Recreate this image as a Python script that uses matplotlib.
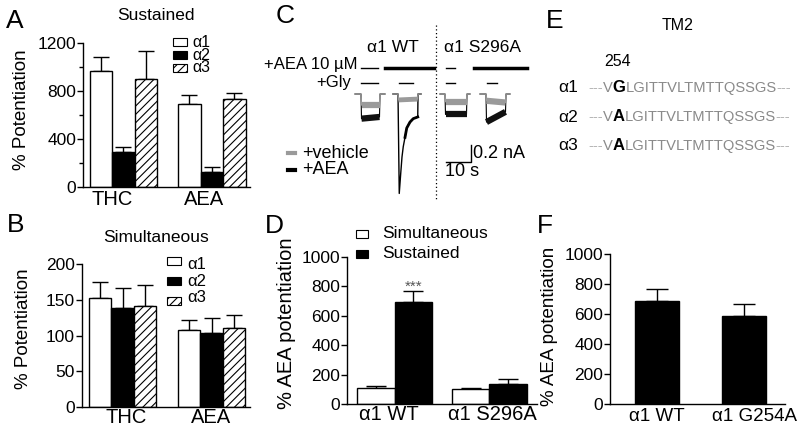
import numpy as np
import matplotlib
matplotlib.use('agg')
import matplotlib.pyplot as plt
from matplotlib.patches import Rectangle
from matplotlib.lines import Line2D

plt.rcParams['font.family'] = ['Liberation Sans', 'DejaVu Sans']
plt.rcParams['hatch.linewidth'] = 0.8
plt.rcParams['axes.linewidth'] = 1.0

W, H = 800, 438

# ---- data ----
drugs = ['THC', 'AEA']
subunits = ['α1', 'α2', 'α3']
sust_mean = [[965, 695], [290, 125], [900, 730]]      # per subunit: THC, AEA
sust_sem = [[120, 72], [43, 42], [235, 53]]
simul_mean = [[152, 108], [139, 104], [141, 111]]
simul_sem = [[23, 14], [27, 20], [30, 18]]

d_groups = ['α1 WT', 'α1 S296A']
d_simul = [110, 100]
d_simul_sem = [12, 10]
d_sust = [692, 136]
d_sust_sem = [80, 34]

f_groups = ['α1 WT', 'α1 G254A']
f_mean = [690, 590]
f_sem = [77, 78]

seq_labels = ['α1', 'α2', 'α3']
seq_site = ['G', 'A', 'A']
seq_rest = 'LGITTVLTMTTQSSGS'

# traces (time in s, current in nA)
wt_pre_t = [2.0, 4.4, 4.6, 11.8, 12.0, 14.0]
wt_pre_veh = [0, 0, -0.13, -0.13, 0, 0]
wt_pre_aea = [0, 0, -0.29, -0.27, 0, 0]
wt_post_t = [17.2, 19.2, 19.4, 27.0, 27.2, 28.4]
wt_post_veh = [0, 0, -0.07, -0.06, 0, 0]
wt_post_aea_t = [17.2, 19.2, 19.7, 20.3, 20.8, 21.3, 22.0, 22.7, 24.0, 25.3, 27.1, 27.2, 28.4]
wt_post_aea = [0, 0, -1.17, -0.93, -0.74, -0.62, -0.51, -0.40, -0.33, -0.29, -0.27, 0, 0]
mut_pre_t = [36.0, 38.0, 38.2, 46.6, 46.8, 48.0]
mut_pre_veh = [0, 0, -0.09, -0.09, 0, 0]
mut_pre_aea = [0, 0, -0.24, -0.24, 0, 0]
mut_post_t = [52.0, 54.4, 54.6, 62.2, 62.4, 64.0]
mut_post_veh = [0, 0, -0.08, -0.10, 0, 0]
mut_post_aea = [0, 0, -0.33, -0.21, 0, 0]
aea_thin = [(4.4, 11.2), (38.4, 42.0)]
aea_thick = [(14.0, 33.6), (49.6, 70.8)]
gly_on = [(4.4, 11.2), (19.6, 25.2), (38.4, 42.0), (54.8, 58.8)]

GREY = '#9a9a9a'


def rect(l, t, r, b):
    return [l / W, 1 - b / H, (r - l) / W, (b - t) / H]


def ftext(x, y, s, **kw):
    return fig.text(x / W, 1 - y / H, s, **kw)


def style(ax, xsize=14.5):
    for s in ['top', 'right']:
        ax.spines[s].set_visible(False)
    ax.tick_params(axis='y', direction='out', length=4, width=1, labelsize=12.5, pad=1)
    ax.tick_params(axis='x', length=0, labelsize=xsize)


fig = plt.figure(figsize=(8, 4.38), dpi=100)

# ---- A and B: grouped bars ----
pos_thc = [0.8, 1.8, 2.8]
pos_aea = [4.75, 5.75, 6.75]
fills = ['white', 'black', 'white']
hatches = [None, None, '////']


def grouped(ax, means, sems):
    for k in range(3):
        xs = [pos_thc[k], pos_aea[k]]
        ax.bar(xs, means[k], width=1.0, color=fills[k], edgecolor='black',
               linewidth=1, hatch=hatches[k], zorder=2)
        ax.errorbar(xs, means[k], yerr=[[0, 0], sems[k]], fmt='none',
                    ecolor='black', elinewidth=1, capsize=6, capthick=1, zorder=1)
    ax.set_xlim(0, 7.45)


axA = fig.add_axes(rect(83, 43, 250, 187))
grouped(axA, sust_mean, sust_sem)
axA.set_ylim(0, 1200)
axA.set_yticks([0, 400, 800, 1200])
axA.set_yticks([200, 600, 1000], minor=True)
axA.tick_params(axis='y', which='minor', length=3, width=1)
axA.set_xticks([1.29, 5.42])
axA.set_xticklabels(drugs)
style(axA)
axA.tick_params(axis='x', pad=2)
axA.set_ylabel('% Potentiation', fontsize=13.5)
axA.yaxis.set_label_coords(-0.32, 0.54)

axB = fig.add_axes(rect(82, 264, 250, 407))
grouped(axB, simul_mean, simul_sem)
axB.set_ylim(0, 200)
axB.set_yticks([0, 50, 100, 150, 200])
axB.set_xticks([1.96, 5.73])
axB.set_xticklabels(drugs)
style(axB)
axB.tick_params(axis='x', pad=1)
axB.set_ylabel('% Potentiation', fontsize=13.5)
axB.yaxis.set_label_coords(-0.30, 0.55)

ftext(156, 15, 'Sustained', ha='center', va='center', fontsize=12.5)
ftext(156, 238, 'Simultaneous', ha='center', va='center', fontsize=12.5)

# legends of A and B: boxes plus one multi-line text each
for y_top, step, xb, xt, fs, ls in [(42, 13, 173, 192, 11.5, 0.77),
                                     (261, 20, 167, 187, 12, 1.14)]:
    for k in range(3):
        y0 = y_top + step * k
        fig.add_artist(Rectangle((xb / W, 1 - (y0 + 4) / H), 14 / W, 8 / H,
                                 facecolor=fills[k], edgecolor='black', linewidth=0.8,
                                 hatch=hatches[k], transform=fig.transFigure))
    ftext(xt, y_top + step, '\n'.join(subunits), va='center', fontsize=fs,
          linespacing=ls)

# ---- C: traces ----
axC = fig.add_axes(rect(350, 60, 530, 200))
axC.set_xlim(0, 72)
axC.set_ylim(-1.247, 0.4)
axC.axis('off')
for t, veh, aea in [(wt_pre_t, wt_pre_veh, wt_pre_aea),
                    (mut_pre_t, mut_pre_veh, mut_pre_aea),
                    (mut_post_t, mut_post_veh, mut_post_aea)]:
    axC.plot(t, aea, color='black', lw=0.8)
    axC.plot(t, veh, color=GREY, lw=0.9)
    axC.plot(t[2:4], veh[2:4], color=GREY, lw=4.5, solid_capstyle='butt')
    axC.plot(t[2:4], aea[2:4], color='#111111', lw=4.5, solid_capstyle='butt')
axC.plot(wt_post_aea_t, wt_post_aea, color='black', lw=1.0)
axC.plot(wt_post_t, wt_post_veh, color=GREY, lw=0.9)
axC.plot(wt_post_t[2:4], wt_post_veh[2:4], color=GREY, lw=3.5, solid_capstyle='butt')
axC.plot(wt_post_aea_t[6:11], wt_post_aea[6:11], color='black', lw=2)
for a, b in aea_thin:
    axC.plot([a, b], [0.31, 0.31], color='black', lw=1)
for a, b in aea_thick:
    axC.plot([a, b], [0.31, 0.31], color='black', lw=2.5)
for a, b in gly_on:
    axC.plot([a, b], [0.13, 0.13], color='black', lw=1)
# scale bar 10 s / 0.2 nA
axC.plot([38.4, 48.4, 48.4], [-0.8, -0.8, -0.6], color='black', lw=1)
ftext(473, 153, '0.2 nA', va='center', fontsize=13)
ftext(445, 172, '10 s', va='center', fontsize=13)

ftext(357, 65, '+AEA 10 µM', ha='right', va='center', fontsize=12)
ftext(351, 83, '+Gly', ha='right', va='center', fontsize=12)
ftext(393, 47, 'α1 WT', ha='center', va='center', fontsize=12.5)
ftext(483, 47, 'α1 S296A', ha='center', va='center', fontsize=12.5)
fig.add_artist(Line2D([436 / W, 436 / W], [1 - 25 / H, 1 - 200 / H], color='black',
                      lw=0.9, ls=(0, (1, 2)), transform=fig.transFigure))
for y0, c, lab in [(153, GREY, '+vehicle'), (170, 'black', '+AEA')]:
    fig.add_artist(Line2D([288 / W, 295 / W], [1 - y0 / H] * 2, color=c, lw=3,
                          transform=fig.transFigure))
    ftext(302, y0, lab, va='center', fontsize=13)

# ---- D ----
axD = fig.add_axes(rect(347, 257, 537, 404))
xw = np.array([0.77, 3.3])
axD.bar(xw, d_simul, width=1.0, color='white', edgecolor='black', lw=1, zorder=2)
axD.bar(xw + 1, d_sust, width=1.0, color='black', edgecolor='black', lw=1, zorder=2)
axD.errorbar(xw, d_simul, yerr=[[0, 0], d_simul_sem], fmt='none', ecolor='black',
             elinewidth=1, capsize=7, zorder=1)
axD.errorbar(xw + 1, d_sust, yerr=[[0, 0], d_sust_sem], fmt='none', ecolor='black',
             elinewidth=1, capsize=7, zorder=1)
axD.set_xlim(0, 5.07)
axD.set_ylim(0, 1000)
axD.set_yticks(range(0, 1001, 200))
axD.set_xticks([1.12, 3.89])
axD.set_xticklabels(d_groups)
style(axD)
axD.tick_params(axis='x', pad=1)
axD.set_ylabel('% AEA potentiation', fontsize=14.5)
axD.yaxis.set_label_coords(-0.27, 0.55)
axD.text(1.77, 800, '***', ha='center', va='center', fontsize=11, color='#555555')
for y0, fc, lab in [(234, 'white', 'Simultaneous'), (254, 'black', 'Sustained')]:
    fig.add_artist(Rectangle((356 / W, 1 - (y0 + 4) / H), 12 / W, 8 / H, facecolor=fc,
                             edgecolor='black', lw=0.8, transform=fig.transFigure))
    ftext(382, y0, lab, va='center', fontsize=12.5)

# ---- E: sequence alignment ----
axE = fig.add_axes([0, 0, 1, 1])
axE.axis('off')
axE.set_xlim(0, W)
axE.set_ylim(H, 0)
axE.text(678, 26, 'TM2', ha='center', va='center', fontsize=11.5)
axE.text(618, 62, '254', ha='center', va='center', fontsize=11.5)
for k in range(3):
    y0 = 88 + 29 * k
    axE.text(568, y0, seq_labels[k], ha='center', va='center', fontsize=12.5)
    t0 = axE.text(588, y0, '---', va='center', fontsize=10.6, color='#b5b5b5')
    parts = [('V', '#8a8a8a', 'normal'), (seq_site[k], 'black', 'bold'),
             (seq_rest, '#8a8a8a', 'normal'), ('---', '#b5b5b5', 'normal')]
    prev = t0
    for s, c, fw in parts:
        prev = axE.annotate(s, xy=(1, 0), xycoords=prev, va='bottom', ha='left',
                            fontsize=12 if fw == 'bold' else 10.6, color=c,
                            fontweight=fw)

# ---- F ----
axF = fig.add_axes(rect(610, 254, 785, 404))
axF.bar([1.07, 3.05], f_mean, width=1.0, color='black', edgecolor='black', lw=1, zorder=2)
axF.errorbar([1.07, 3.05], f_mean, yerr=[[0, 0], f_sem], fmt='none', ecolor='black',
             elinewidth=1, capsize=8, zorder=1)
axF.set_xlim(0, 3.98)
axF.set_ylim(0, 1000)
axF.set_yticks(range(0, 1001, 200))
axF.set_xticks([1.07, 3.28])
axF.set_xticklabels(f_groups)
style(axF, xsize=13.5)
axF.tick_params(axis='x', pad=3)
axF.set_ylabel('% AEA potentiation', fontsize=13.5)
axF.yaxis.set_label_coords(-0.30, 0.52)

# panel letters
for x, y, s in [(6, 28, 'A'), (7, 232, 'B'), (276, 23, 'C'), (265, 233, 'D'),
                (546, 28, 'E'), (537, 233, 'F')]:
    ftext(x, y, s, va='baseline', fontsize=19)

fig.savefig('out.png', dpi=100)
